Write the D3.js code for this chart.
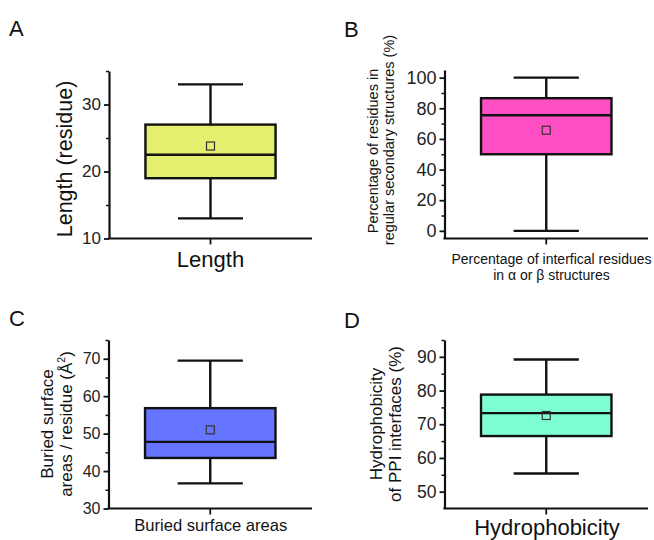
<!DOCTYPE html>
<html>
<head>
<meta charset="utf-8">
<script src="https://cdn.jsdelivr.net/npm/d3@7"></script>
<style>
  html, body { margin: 0; padding: 0; background: #fff; }
  svg { display: block; font-family: "Liberation Sans", Arial, sans-serif; }
</style>
</head>
<body>
<svg id="chart" width="654" height="540"></svg>
<script>
// ---- data ----
const panelLetters = ["A", "B", "C", "D"];
const categories = ["Length", "Percentage of interfical residues|in α or β structures", "Buried surface areas", "Hydrophobicity"];
const yTitles = ["Length (residue)", "Percentage of residues in|regular secondary structures (%)", "Buried surface|areas / residue (Å²)", "Hydrophobicity|of PPI interfaces (%)"];
const whiskerLow  = [13.0, 0.0, 36.7, 55.4];
const q1          = [19.0, 50.0, 43.5, 66.5];
const medians     = [22.5, 75.5, 47.8, 73.3];
const q3          = [27.0, 86.6, 56.8, 78.8];
const whiskerHigh = [33.0, 100.0, 69.5, 89.2];
const means       = [23.8, 65.7, 51.0, 72.6];
const yDomains    = [[10, 35], [-5, 105], [30, 75], [45, 95]];
const majorTicks  = [[10, 20, 30], [0, 20, 40, 60, 80, 100], [30, 40, 50, 60, 70], [50, 60, 70, 80, 90]];
const minorTicks  = [[15, 25, 35], [10, 30, 50, 70, 90], [35, 45, 55, 65, 75], [55, 65, 75, 85, 95]];
const boxColors   = ["#e4ee6f", "#ff4fc4", "#6675ff", "#7effd2"];

// ---- layout ----
const layout = [
  { left: 109, right: 312, top: 71, bottom: 238.5, letter: [9, 36], tickFont: 17,
    yTitle: { font: 21.5, cy: 159, xs: [72] },
    xTitle: { font: 22, cx: 210.5, ys: [266.5] } },
  { left: 444.5, right: 648, top: 70, bottom: 238.5, letter: [344, 36.5], tickFont: 18,
    yTitle: { font: 14.5, cy: [151, 140], xs: [377.5, 393.5] },
    xTitle: { font: 14, cx: 551.5, ys: [264, 280] } },
  { left: 108.5, right: 312, top: 340, bottom: 508.5, letter: [9, 326], tickFont: 16,
    yTitle: { font: 17, cy: 424, xs: [53, 72] },
    xTitle: { font: 16.6, cx: 210.8, ys: [530.5] } },
  { left: 444.5, right: 648, top: 340, bottom: 508.5, letter: [344, 328], tickFont: 17.5,
    yTitle: { font: 17, cy: 424, xs: [382, 401] },
    xTitle: { font: 22, cx: 547, ys: [535] } }
];

const svg = d3.select("#chart");
const SW = 2.4;

panelLetters.forEach((letter, i) => {
  const L = layout[i];
  const g = svg.append("g");

  // panel letter
  g.append("text").attr("x", L.letter[0]).attr("y", L.letter[1])
    .attr("font-size", 22).attr("fill", "#111").text(letter);

  const y = d3.scaleLinear().domain(yDomains[i]).range([L.bottom, L.top]);
  const x = d3.scaleBand().domain([categories[i]]).range([L.left, L.right])
    .paddingInner(0).paddingOuter(0.28);

  // minor ticks
  const minorAxis = d3.axisLeft(y).tickValues(minorTicks[i]).tickSize(3).tickSizeOuter(0).tickFormat("");
  const gm = g.append("g").attr("transform", `translate(${L.left},0)`).call(minorAxis);
  gm.select(".domain").remove();
  gm.selectAll(".tick line").attr("stroke", "#111").attr("stroke-width", 1.5);

  // major ticks
  const yAxis = d3.axisLeft(y).tickValues(majorTicks[i]).tickSize(5).tickSizeOuter(0).tickPadding(3)
    .tickFormat(d3.format("d"));
  const gy = g.append("g").attr("transform", `translate(${L.left},0)`).call(yAxis);
  gy.select(".domain").attr("stroke", "#111").attr("stroke-width", 2.2);
  gy.selectAll(".tick line").attr("stroke", "#111").attr("stroke-width", 1.8);
  gy.selectAll(".tick text").attr("font-size", L.tickFont).attr("fill", "#222")
    .attr("font-family", '"Liberation Sans", Arial, sans-serif');

  // x axis
  const xAxis = d3.axisBottom(x).tickSize(6).tickSizeOuter(0).tickFormat("");
  const gx = g.append("g").attr("transform", `translate(0,${L.bottom})`).call(xAxis);
  gx.select(".domain").attr("stroke", "#111").attr("stroke-width", 2.2)
    .attr("d", `M${L.left - 1.1},0H${L.right}`);
  gx.selectAll(".tick line").attr("stroke", "#111").attr("stroke-width", 1.8);

  const cat = categories[i];
  const bx = x(cat), bw = x.bandwidth(), cx = bx + bw / 2;
  const capW = bw / 2;

  // whiskers
  g.append("line").attr("x1", cx).attr("x2", cx).attr("y1", y(whiskerHigh[i])).attr("y2", y(q3[i]))
    .attr("stroke", "#111").attr("stroke-width", SW);
  g.append("line").attr("x1", cx).attr("x2", cx).attr("y1", y(q1[i])).attr("y2", y(whiskerLow[i]))
    .attr("stroke", "#111").attr("stroke-width", SW);
  [whiskerHigh[i], whiskerLow[i]].forEach(v => {
    g.append("line").attr("x1", cx - capW / 2).attr("x2", cx + capW / 2).attr("y1", y(v)).attr("y2", y(v))
      .attr("stroke", "#111").attr("stroke-width", SW);
  });

  // box
  g.append("rect").attr("x", bx).attr("y", y(q3[i])).attr("width", bw).attr("height", y(q1[i]) - y(q3[i]))
    .attr("fill", boxColors[i]).attr("stroke", "#111").attr("stroke-width", SW);
  g.append("line").attr("x1", bx).attr("x2", bx + bw).attr("y1", y(medians[i])).attr("y2", y(medians[i]))
    .attr("stroke", "#111").attr("stroke-width", SW);

  // mean marker
  const ms = 8;
  g.append("rect").attr("x", cx - ms / 2).attr("y", y(means[i]) - ms / 2).attr("width", ms).attr("height", ms)
    .attr("fill", "none").attr("stroke", "#333").attr("stroke-width", 1.2);

  // y title (rotated)
  const yLines = yTitles[i].split("|");
  yLines.forEach((t, k) => {
    const cy = Array.isArray(L.yTitle.cy) ? L.yTitle.cy[k] : L.yTitle.cy;
    const tx = g.append("text")
      .attr("transform", `translate(${L.yTitle.xs[k]},${cy}) rotate(-90)`)
      .attr("text-anchor", "middle").attr("font-size", L.yTitle.font).attr("fill", "#111");
    if (t.includes("²")) {
      tx.append("tspan").text(t.replace("²)", ""));
      tx.append("tspan").attr("font-size", L.yTitle.font * 0.62).attr("dy", -L.yTitle.font * 0.42).text("2");
      tx.append("tspan").attr("dy", L.yTitle.font * 0.42).text(")");
    } else {
      tx.text(t);
    }
  });

  // x title
  cat.split("|").forEach((t, k) => {
    g.append("text").attr("x", L.xTitle.cx).attr("y", L.xTitle.ys[k])
      .attr("text-anchor", "middle").attr("font-size", L.xTitle.font).attr("fill", "#111").text(t);
  });
});
</script>
</body>
</html>
